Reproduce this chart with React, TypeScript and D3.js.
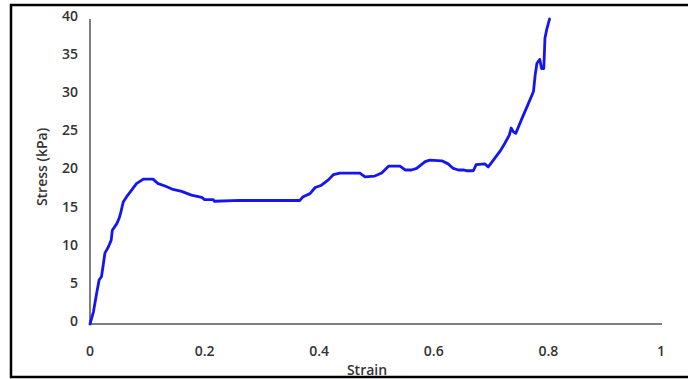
import * as d3 from "d3";

const width = 688,
  height = 379;
const margin = { top: 19, right: 25, bottom: 55, left: 90 };

// stress-strain curve
const strain = [
  0, 0.006, 0.012, 0.016, 0.02, 0.023, 0.026, 0.032, 0.037, 0.039, 0.047, 0.051, 0.054, 0.058, 0.064,
  0.073, 0.081, 0.093, 0.11, 0.119, 0.131, 0.143, 0.16, 0.177, 0.195, 0.2, 0.215, 0.217, 0.262, 0.366,
  0.372, 0.384, 0.393, 0.404, 0.416, 0.425, 0.436, 0.471, 0.48, 0.497, 0.509, 0.521, 0.541, 0.55, 0.561,
  0.57, 0.585, 0.593, 0.614, 0.625, 0.634, 0.643, 0.651, 0.657, 0.669, 0.674, 0.689, 0.695, 0.704, 0.716,
  0.724, 0.732, 0.735, 0.739, 0.743, 0.753, 0.765, 0.774, 0.777, 0.78, 0.785, 0.788, 0.792, 0.794, 0.797,
  0.802,
];
const stress = [
  0, 1.6, 4.2, 5.8, 6.2, 7.7, 9.3, 10.1, 11.0, 12.3, 13.2, 13.9, 14.7, 16.0, 16.7, 17.6, 18.4, 19.0, 19.0,
  18.4, 18.1, 17.7, 17.4, 16.9, 16.6, 16.3, 16.3, 16.1, 16.2, 16.2, 16.7, 17.1, 17.9, 18.2, 18.9, 19.6,
  19.8, 19.8, 19.3, 19.4, 19.8, 20.7, 20.7, 20.2, 20.2, 20.4, 21.3, 21.5, 21.4, 21.0, 20.4, 20.2, 20.2,
  20.1, 20.1, 20.9, 21.0, 20.6, 21.5, 22.7, 23.7, 24.8, 25.7, 25.2, 25.0, 26.8, 28.9, 30.5, 32.7, 34.2,
  34.7, 33.5, 33.5, 37.5, 38.6, 40.0,
];
const xTicks = [0, 0.2, 0.4, 0.6, 0.8, 1];
const yTicks = [0, 5, 10, 15, 20, 25, 30, 35, 40];

const font = "'Open Sans', 'DejaVu Sans', sans-serif";

const App = () => {
  const getX = d3
    .scaleLinear()
    .domain([0, 1])
    .range([margin.left, width - margin.right]);
  const getY = d3
    .scaleLinear()
    .domain([0, 40])
    .range([height - margin.bottom, margin.top]);

  const data = strain.map((s, i) => ({ s, v: stress[i] }));
  const linePath = d3
    .line<{ s: number; v: number }>()
    .x((d) => getX(d.s))
    .y((d) => getY(d.v))(data);

  const y0 = getY(0);

  return (
    <svg
      width={width}
      height={height}
      style={{ position: "absolute", left: 0, top: 0, background: "#fff" }}
    >
      {/* frame */}
      <line x1={11} x2={11} y1={4} y2={378} stroke="#000" strokeWidth={2.5} />
      <line x1={10} x2={688} y1={5} y2={5} stroke="#000" strokeWidth={2.5} />
      <line x1={10} x2={688} y1={377} y2={377} stroke="#000" strokeWidth={2.5} />

      {/* axes */}
      <line x1={getX(0)} x2={getX(0)} y1={getY(40)} y2={y0} stroke="#555" strokeWidth={1.5} />
      <line x1={getX(0)} x2={getX(1) - 1} y1={y0} y2={y0} stroke="#555" strokeWidth={1.5} />

      {yTicks.map((t) => (
        <text
          key={"y" + t}
          x={78}
          y={getY(t) - 3}
          dy="0.35em"
          textAnchor="end"
          fontFamily={font}
          fontSize={14}
          fontWeight={600}
          fill="#333"
        >
          {t}
        </text>
      ))}
      {xTicks.map((t) => (
        <text
          key={"x" + t}
          x={getX(t) - (t === 1 ? 2 : 0)}
          y={351}
          dy="0.35em"
          textAnchor="middle"
          fontFamily={font}
          fontSize={14}
          fontWeight={600}
          fill="#333"
        >
          {t}
        </text>
      ))}

      <text
        transform={`translate(42,167) rotate(-90)`}
        textAnchor="middle"
        dy="0.35em"
        fontFamily={font}
        fontSize={14}
        fontWeight={600}
        fill="#333"
      >
        Stress (kPa)
      </text>
      <text
        x={367}
        y={370}
        dy="0.35em"
        textAnchor="middle"
        fontFamily={font}
        fontSize={14}
        fontWeight={600}
        fill="#333"
      >
        Strain
      </text>

      <path
        d={linePath || ""}
        fill="none"
        stroke="#1515f0"
        strokeWidth={2.8}
        strokeLinejoin="round"
        strokeLinecap="round"
      />
    </svg>
  );
};

export default App;
